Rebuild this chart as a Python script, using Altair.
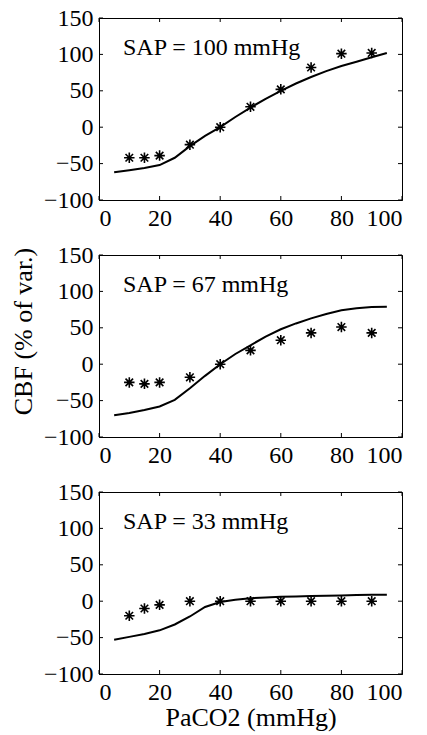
import altair as alt
import pandas as pd

# ---- data ----
paco2_obs = [10, 15, 20, 30, 40, 50, 60, 70, 80, 90]
cbf_obs_100 = [-42, -42, -39, -24, 0, 28, 52, 82, 101, 102]
cbf_obs_67 = [-25, -27, -25, -18, 0, 19, 33, 43, 51, 43]
cbf_obs_33 = [-20, -10, -5, 0, 0, 0, 0, 0, 0, 0]

paco2_model = [5, 10, 15, 20, 25, 30, 35, 40, 45, 50, 55, 60, 65, 70, 75, 80, 85, 90, 95]
cbf_model_100 = [-62, -59, -56, -52, -42, -26, -12, 0, 14, 27, 39, 50, 60, 69, 77, 84, 90, 96, 102]
cbf_model_67 = [-70, -67, -63, -58, -49, -33, -16, 0, 14, 26, 38, 48, 56, 63, 69, 74, 77, 78.5, 79]
cbf_model_33 = [-53, -49, -45, -40, -32, -21, -8, -1, 2, 4, 5, 6, 6.5, 7, 7.5, 8, 8.5, 9, 9]

panel_labels = ["SAP = 100 mmHg", "SAP = 67 mmHg", "SAP = 33 mmHg"]
x_ticks = [0, 20, 40, 60, 80, 100]
y_ticks = [-100, -50, 0, 50, 100, 150]
x_title = "PaCO2 (mmHg)"
y_title = "CBF (% of var.)"

FONT = "Liberation Serif"
W, H = 303, 182
TICK = 4

STAR = "M-1,0L1,0M0,-1L0,1M-0.72,-0.72L0.72,0.72M-0.72,0.72L0.72,-0.72"

xs = alt.Scale(domain=[0, 100], nice=False, zero=False)
ys = alt.Scale(domain=[-100, 150], nice=False, zero=False)


def panel(obs, model, label, show_x_title, show_y_title):
    obs_df = pd.DataFrame({"x": paco2_obs, "y": obs})
    mod_df = pd.DataFrame({"x": paco2_model, "y": model})
    xt_df = pd.DataFrame({"x": x_ticks})
    yt_df = pd.DataFrame({"y": y_ticks})

    x_axis_kwargs = dict(values=x_ticks, ticks=False, grid=False, labelPadding=6,
                         title=x_title if show_x_title else None)
    if show_x_title:
        x_axis_kwargs.update(titleBaseline="alphabetic", titleY=51)
    y_axis_kwargs = dict(values=y_ticks, ticks=False, grid=False, labelPadding=6,
                         title=y_title if show_y_title else None)
    if show_y_title:
        y_axis_kwargs.update(titleX=-63, titleY=76, titleBaseline="bottom", titleAngle=270,
                             titleAlign="center")
    xa = alt.Axis(**x_axis_kwargs)
    ya = alt.Axis(**y_axis_kwargs)
    X = alt.X("x:Q", scale=xs, axis=xa)
    Y = alt.Y("y:Q", scale=ys, axis=ya)

    line = alt.Chart(mod_df).mark_line(color="black", strokeWidth=2).encode(x=X, y=Y)
    pts = alt.Chart(obs_df).mark_point(
        shape=STAR, filled=False, color="black", strokeWidth=1.6, size=110, opacity=1
    ).encode(x=X, y=Y)
    xt_bot = alt.Chart(xt_df).mark_rule(color="black", strokeWidth=1).encode(
        x=X, y=alt.value(H), y2=alt.value(H - TICK))
    xt_top = alt.Chart(xt_df).mark_rule(color="black", strokeWidth=1).encode(
        x=X, y=alt.value(0), y2=alt.value(TICK))
    yt_left = alt.Chart(yt_df).mark_rule(color="black", strokeWidth=1).encode(
        y=Y, x=alt.value(0), x2=alt.value(TICK))
    yt_right = alt.Chart(yt_df).mark_rule(color="black", strokeWidth=1).encode(
        y=Y, x=alt.value(W), x2=alt.value(W - TICK))
    txt = alt.Chart(pd.DataFrame({"t": [label]})).mark_text(
        align="left", baseline="alphabetic", font=FONT, fontSize=24, color="black"
    ).encode(x=alt.value(24), y=alt.value(37), text="t:N")

    return alt.layer(line, pts, xt_bot, xt_top, yt_left, yt_right, txt).properties(
        width=W, height=H)


p1 = panel(cbf_obs_100, cbf_model_100, panel_labels[0], False, False)
p2 = panel(cbf_obs_67, cbf_model_67, panel_labels[1], False, True)
p3 = panel(cbf_obs_33, cbf_model_33, panel_labels[2], True, False)

chart = alt.vconcat(p1, p2, p3, spacing=55, bounds="flush").properties(
    padding={"left": 9, "top": 5, "right": 5, "bottom": 5},
    background="white",
).configure_view(
    stroke="black", strokeWidth=1
).configure_axis(
    domainColor="black", domainWidth=1, labelColor="black", labelFont=FONT,
    labelFontSize=24, titleFont=FONT, titleFontSize=26, titleFontWeight="normal",
    titleColor="black"
)

chart.save("out.html", embed_options={"renderer": "svg", "actions": False})
